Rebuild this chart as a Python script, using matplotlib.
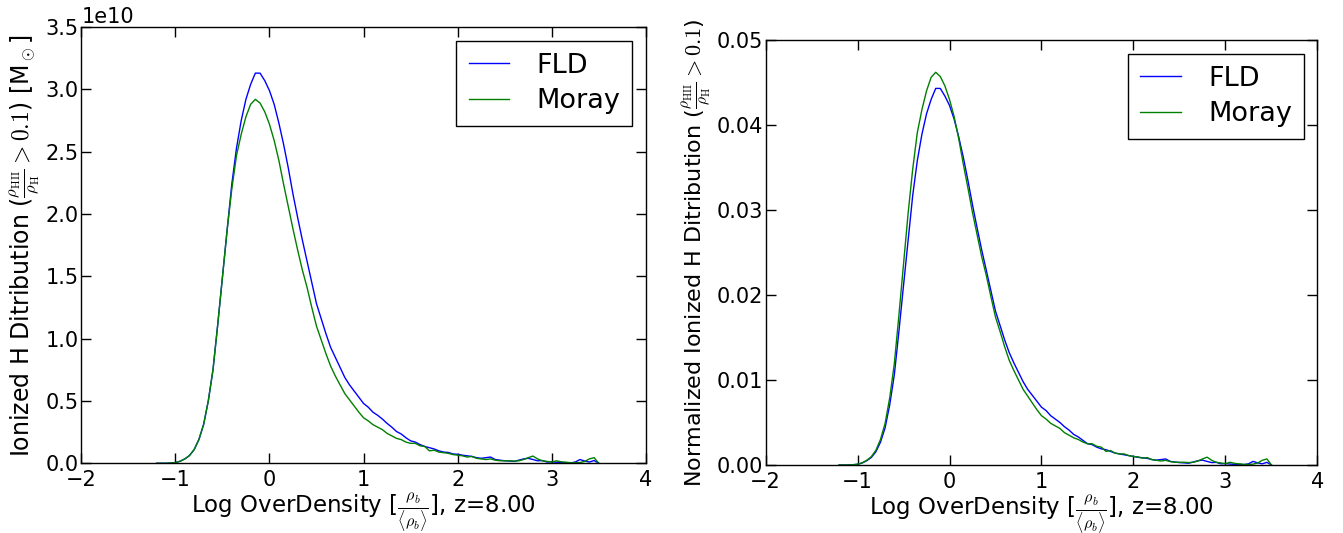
import numpy as np
import matplotlib
matplotlib.use("Agg")
import matplotlib.pyplot as plt

plt.rcParams['font.family'] = ['DejaVu Sans']
plt.rcParams['mathtext.fontset'] = 'cm'
plt.rcParams['mathtext.default'] = 'it'

# shared log-overdensity grid (bin centres)
log_od = [-1.2, -1.15, -1.1, -1.05, -1.0, -0.95, -0.9, -0.85, -0.8, -0.75,
          -0.7, -0.65, -0.6, -0.55, -0.5, -0.45, -0.4, -0.35, -0.3, -0.25,
          -0.2, -0.15, -0.1, -0.05, 0.0, 0.05, 0.1, 0.15, 0.2, 0.25,
          0.3, 0.35, 0.4, 0.45, 0.5, 0.55, 0.6, 0.65, 0.7, 0.75,
          0.8, 0.85, 0.9, 0.95, 1.0, 1.05, 1.1, 1.15, 1.2, 1.25,
          1.3, 1.35, 1.4, 1.45, 1.5, 1.55, 1.6, 1.65, 1.7, 1.75,
          1.8, 1.85, 1.9, 1.95, 2.0, 2.05, 2.1, 2.15, 2.2, 2.25,
          2.3, 2.35, 2.4, 2.45, 2.5, 2.55, 2.6, 2.65, 2.7, 2.75,
          2.8, 2.85, 2.9, 2.95, 3.0, 3.05, 3.1, 3.15, 3.2, 3.25,
          3.3, 3.35, 3.4, 3.45, 3.5]

# ionized H mass distribution, units of 1e10 Msun
fld_mass = [0, 0, 0, 0.002, 0.006, 0.016, 0.035, 0.062, 0.11, 0.19,
            0.31, 0.50, 0.75, 1.11, 1.49, 1.87, 2.24, 2.53, 2.75, 2.92,
            3.04, 3.13, 3.13, 3.07, 2.99, 2.88, 2.73, 2.56, 2.37, 2.16,
            1.97, 1.79, 1.62, 1.45, 1.28, 1.16, 1.04, 0.93, 0.85, 0.77,
            0.69, 0.63, 0.58, 0.53, 0.48, 0.45, 0.41, 0.385, 0.355, 0.32,
            0.29, 0.255, 0.235, 0.205, 0.18, 0.17, 0.15, 0.135, 0.125, 0.115,
            0.10, 0.09, 0.087, 0.075, 0.072, 0.065, 0.06, 0.055, 0.045, 0.04,
            0.045, 0.05, 0.03, 0.025, 0.02, 0.018, 0.015, 0.025, 0.035, 0.04,
            0.03, 0.02, 0.022, 0.01, 0.012, 0.008, 0.005, 0.006, 0.003, 0.01,
            0.03, 0.018, 0.01, 0.022, 0.0]

moray_mass = [0, 0, 0, 0.002, 0.006, 0.016, 0.035, 0.062, 0.11, 0.19,
              0.31, 0.50, 0.75, 1.11, 1.49, 1.87, 2.20, 2.47, 2.64, 2.78,
              2.88, 2.92, 2.89, 2.82, 2.72, 2.59, 2.43, 2.24, 2.06, 1.88,
              1.71, 1.55, 1.41, 1.25, 1.10, 0.99, 0.88, 0.78, 0.70, 0.63,
              0.56, 0.51, 0.46, 0.41, 0.365, 0.34, 0.31, 0.29, 0.27, 0.24,
              0.22, 0.20, 0.19, 0.17, 0.16, 0.16, 0.14, 0.135, 0.10, 0.105,
              0.09, 0.085, 0.08, 0.07, 0.065, 0.06, 0.05, 0.055, 0.04, 0.035,
              0.03, 0.035, 0.025, 0.02, 0.02, 0.02, 0.018, 0.02, 0.03, 0.045,
              0.058, 0.035, 0.02, 0.015, 0.01, 0.02, 0.012, 0.008, 0.005, 0.004,
              0.006, 0.015, 0.035, 0.045, 0.0]

# normalized distributions
fld_norm = [0, 0, 0, 0.00003, 0.00008, 0.00023, 0.0005, 0.00088, 0.00156, 0.00269,
            0.00438, 0.00707, 0.0106, 0.0157, 0.0211, 0.0264, 0.0317, 0.0358, 0.0389, 0.0413,
            0.0430, 0.0443, 0.0443, 0.0434, 0.0423, 0.0407, 0.0386, 0.0362, 0.0335, 0.0306,
            0.0279, 0.0253, 0.0229, 0.0205, 0.0181, 0.0164, 0.0147, 0.0132, 0.0120, 0.0109,
            0.0098, 0.0089, 0.0082, 0.0075, 0.0068, 0.0064, 0.0058, 0.0054, 0.0050, 0.0045,
            0.0041, 0.0036, 0.0033, 0.0029, 0.0025, 0.0024, 0.0021, 0.0019, 0.0018, 0.0016,
            0.0014, 0.0013, 0.0012, 0.0011, 0.0010, 0.0009, 0.00085, 0.00078, 0.00064, 0.00057,
            0.00064, 0.00071, 0.00042, 0.00035, 0.00028, 0.00025, 0.00021, 0.00035, 0.0005, 0.00057,
            0.00042, 0.00028, 0.00031, 0.00014, 0.00017, 0.00011, 0.00007, 0.00008, 0.00004, 0.00014,
            0.00042, 0.00025, 0.00014, 0.00031, 0.0]

moray_norm = [0, 0, 0, 0.00003, 0.00009, 0.00025, 0.00055, 0.00098, 0.00174, 0.00301,
              0.0049, 0.0079, 0.0119, 0.0176, 0.0236, 0.0296, 0.0348, 0.0391, 0.0418, 0.0440,
              0.0456, 0.0462, 0.0457, 0.0446, 0.0430, 0.0410, 0.0384, 0.0354, 0.0326, 0.0297,
              0.0271, 0.0245, 0.0223, 0.0198, 0.0174, 0.0157, 0.0139, 0.0123, 0.0111, 0.0100,
              0.0089, 0.0081, 0.0073, 0.0065, 0.0058, 0.0054, 0.0049, 0.0046, 0.0043, 0.0038,
              0.0035, 0.0032, 0.0030, 0.0027, 0.0025, 0.0025, 0.0022, 0.0021, 0.0016, 0.0017,
              0.0014, 0.0013, 0.0013, 0.0011, 0.0010, 0.00095, 0.0008, 0.00087, 0.00063, 0.00055,
              0.00047, 0.00055, 0.0004, 0.00032, 0.00032, 0.00032, 0.00028, 0.00032, 0.00047, 0.00071,
              0.00092, 0.00055, 0.00032, 0.00024, 0.00016, 0.00032, 0.00019, 0.00013, 0.00008, 0.00006,
              0.0001, 0.00024, 0.00055, 0.00071, 0.0]

series_labels = ["FLD", "Moray"]
xticks = [-2, -1, 0, 1, 2, 3, 4]

x = np.array(log_od)
fig = plt.figure(figsize=(13.43, 5.33), dpi=100)
ax1 = fig.add_axes([0.0605, 0.1308, 0.4204, 0.8185])
ax2 = fig.add_axes([0.5700, 0.1276, 0.4110, 0.7974])

ax1.plot(x, np.array(fld_mass) * 1e10, color='b', lw=1.0, label=series_labels[0])
ax1.plot(x, np.array(moray_mass) * 1e10, color='g', lw=1.0, label=series_labels[1])
ax1.set_ylim(0, 3.5e10)
ax1.set_yticks(np.arange(0, 3.51e10, 0.5e10))

ax2.plot(x, fld_norm, color='b', lw=1.0, label=series_labels[0])
ax2.plot(x, moray_norm, color='g', lw=1.0, label=series_labels[1])
ax2.set_ylim(0, 0.05)
ax2.set_yticks([0.0, 0.01, 0.02, 0.03, 0.04, 0.05])

xlabel = r'Log OverDensity [$\frac{\rho_b}{\langle\rho_b\rangle}$], z=8.00'
for ax in (ax1, ax2):
    ax.set_xlim(-2, 4)
    ax.set_xticks(xticks)
    ax.tick_params(direction='in', top=True, right=True, length=7, width=1,
                   labelsize=15)
    ax.tick_params(axis='y', pad=2)
    ax.tick_params(axis='x', pad=5)
    for s in ax.spines.values():
        s.set_linewidth(1.0)
    ax.set_xlabel(xlabel, fontsize=16.5, labelpad=1)
    leg = ax.legend(loc='upper right', fontsize=19.5, fancybox=False,
                    framealpha=1, edgecolor='black', handlelength=1.5,
                    handletextpad=1.0, borderpad=0.45, labelspacing=0.35)
    leg.get_frame().set_linewidth(1.0)

ax1.yaxis.get_offset_text().set_fontsize(15)
ax1.set_ylabel(r'Ionized H Ditribution ($\frac{\rho_{\rm HII}}{\rho_{\rm H}}>0.1$) [M$_\odot$]',
               fontsize=17, labelpad=3)
ax2.set_ylabel(r'Normalized Ionized H Ditribution ($\frac{\rho_{\rm HII}}{\rho_{\rm H}}>0.1$)',
               fontsize=16, labelpad=3)

fig.savefig('out.png', dpi=100)
